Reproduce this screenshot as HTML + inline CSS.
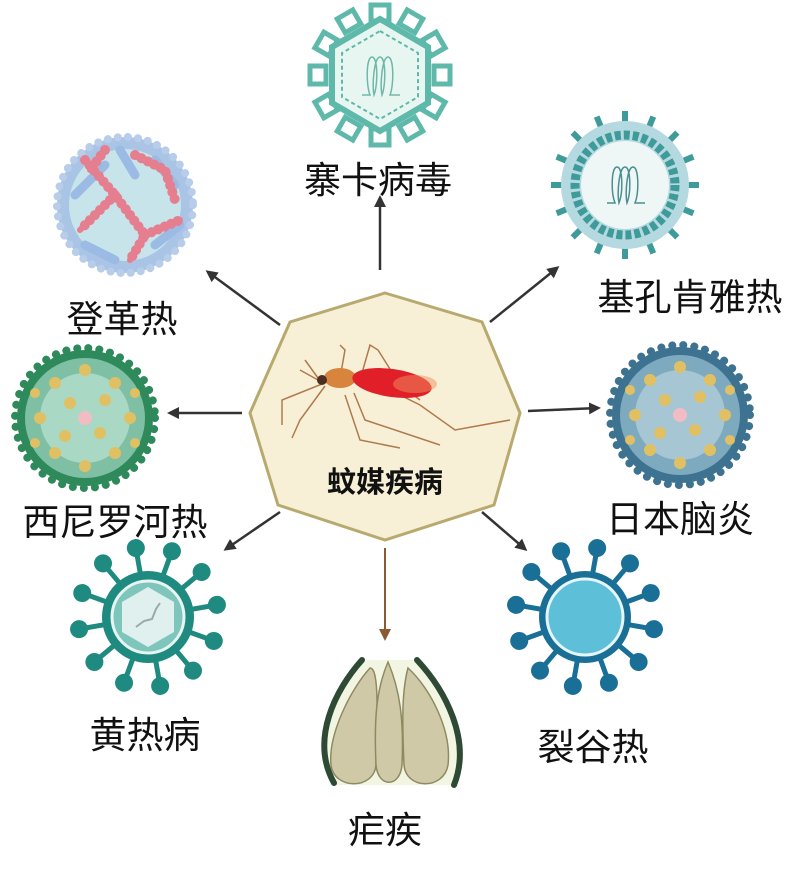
<!DOCTYPE html>
<html><head><meta charset="utf-8"><style>
html,body{margin:0;padding:0;background:#fff;}
body{width:800px;height:872px;overflow:hidden;}
svg text{font-family:"Liberation Sans","Noto Sans CJK SC",sans-serif;}
</style></head><body>
<svg width="800" height="872" viewBox="0 0 800 872" xmlns="http://www.w3.org/2000/svg">
<defs>
<marker id="ah" markerWidth="12" markerHeight="12" refX="9" refY="6" orient="auto" markerUnits="userSpaceOnUse">
<path d="M0,0 L12,6 L0,12 Z" fill="#333"/></marker>
<marker id="ahb" markerWidth="12" markerHeight="12" refX="9" refY="6" orient="auto" markerUnits="userSpaceOnUse">
<path d="M0,0 L12,6 L0,12 Z" fill="#8a5a32"/></marker>
<g id="spkYF"><line x1="0" y1="0" x2="0" y2="-66" stroke="#1f8a7f" stroke-width="5"/><circle cx="0" cy="-70" r="9" fill="#1f8a7f"/></g>
<g id="spkRV"><line x1="0" y1="0" x2="0" y2="-66" stroke="#1a6f97" stroke-width="5"/><circle cx="0" cy="-70" r="9" fill="#1a6f97"/></g>
<g id="spkCH"><line x1="0" y1="0" x2="0" y2="-74" stroke="#3f9a9a" stroke-width="6"/></g>
<g id="spkZK"><rect x="-9" y="-70" width="18" height="16" fill="none" stroke="#5fb9ab" stroke-width="5"/></g>
<g id="dots" fill="#e1c063"><circle cx="-30" cy="-35" r="6"/><circle cx="0" cy="-48" r="6"/><circle cx="30" cy="-35" r="6"/><circle cx="-45" cy="0" r="6"/><circle cx="45" cy="0" r="6"/><circle cx="-30" cy="35" r="6"/><circle cx="0" cy="48" r="6"/><circle cx="30" cy="35" r="6"/><circle cx="-15" cy="-15" r="6"/><circle cx="15" cy="15" r="6"/><circle cx="20" cy="-18" r="6"/><circle cx="-20" cy="18" r="6"/><circle cx="-50" cy="-25" r="5"/><circle cx="50" cy="25" r="5"/><circle cx="-50" cy="25" r="5"/><circle cx="50" cy="-25" r="5"/></g>
</defs>

<g stroke="#333" stroke-width="2.5" fill="none">
<line x1="380" y1="270" x2="380" y2="198" marker-end="url(#ah)"/>
<line x1="280" y1="325" x2="208" y2="272" marker-end="url(#ah)"/>
<line x1="490" y1="322" x2="557" y2="268" marker-end="url(#ah)"/>
<line x1="242" y1="413" x2="170" y2="413" marker-end="url(#ah)"/>
<line x1="528" y1="411" x2="598" y2="408" marker-end="url(#ah)"/>
<line x1="280" y1="512" x2="226" y2="549" marker-end="url(#ah)"/>
<line x1="482" y1="512" x2="525" y2="549" marker-end="url(#ah)"/>
</g>
<line x1="385" y1="548" x2="385" y2="638" stroke="#8a5a32" stroke-width="2" marker-end="url(#ahb)"/>

<polygon points="385,293 482,322 520,413 494,505 385,540 278,505 250,413 290,322" fill="#f8f0d6" stroke="#b8aa6e" stroke-width="3"/>
<g fill="none" stroke="#b07a4c" stroke-width="1.5">
<path d="M322,384 L282,400 L282,425"/><path d="M325,386 L300,420 L292,438"/>
<path d="M340,378 L345,350 L340,345"/><path d="M360,380 L370,345 L378,350 L400,385 L420,400"/>
<path d="M354,393 L365,420 L440,445"/><path d="M345,395 L360,440 L400,448"/>
<path d="M378,384 L420,405 L455,430 L510,420"/><path d="M318,380 L300,370"/><path d="M318,378 L305,360"/>
</g>
<ellipse cx="340" cy="378" rx="16" ry="10" fill="#d9843c"/>
<circle cx="322" cy="380" r="5" fill="#4a3020"/>
<ellipse cx="392" cy="383" rx="40" ry="14" fill="#e01f28" transform="rotate(8 392 383)"/>
<ellipse cx="415" cy="384" rx="22" ry="9" fill="#f09060" opacity="0.5"/>
<text x="385" y="492" font-size="29" font-weight="bold" text-anchor="middle" fill="#111">蚊媒疾病</text>

<g transform="translate(380,75)">
<use href="#spkZK"/><use href="#spkZK" transform="rotate(30)"/><use href="#spkZK" transform="rotate(60)"/><use href="#spkZK" transform="rotate(90)"/><use href="#spkZK" transform="rotate(120)"/><use href="#spkZK" transform="rotate(150)"/><use href="#spkZK" transform="rotate(180)"/><use href="#spkZK" transform="rotate(210)"/><use href="#spkZK" transform="rotate(240)"/><use href="#spkZK" transform="rotate(270)"/><use href="#spkZK" transform="rotate(300)"/><use href="#spkZK" transform="rotate(330)"/>
<polygon points="0,-56 48,-28 48,28 0,56 -48,28 -48,-28" fill="#e8f6f2" stroke="#5fb9ab" stroke-width="6"/>
<polygon points="0,-44 38,-22 38,22 0,44 -38,22 -38,-22" fill="none" stroke="#5fb9ab" stroke-width="2" stroke-dasharray="4 3"/>
<path d="M-18,20 L-10,20 C-14,10 -14,-18 -8,-18 C-2,-18 -2,10 -6,20 C-8,10 -6,-18 0,-18 C6,-18 6,10 2,20 C0,10 2,-18 8,-18 C14,-18 14,10 10,20 L20,20" fill="none" stroke="#6fb8a8" stroke-width="1.5"/>
</g>
<text x="378" y="193" font-size="37" text-anchor="middle" fill="#111">寨卡病毒</text>

<g transform="translate(625,185)">
<use href="#spkCH"/><use href="#spkCH" transform="rotate(22.5)"/><use href="#spkCH" transform="rotate(45)"/><use href="#spkCH" transform="rotate(67.5)"/><use href="#spkCH" transform="rotate(90)"/><use href="#spkCH" transform="rotate(112.5)"/><use href="#spkCH" transform="rotate(135)"/><use href="#spkCH" transform="rotate(157.5)"/><use href="#spkCH" transform="rotate(180)"/><use href="#spkCH" transform="rotate(202.5)"/><use href="#spkCH" transform="rotate(225)"/><use href="#spkCH" transform="rotate(247.5)"/><use href="#spkCH" transform="rotate(270)"/><use href="#spkCH" transform="rotate(292.5)"/><use href="#spkCH" transform="rotate(315)"/><use href="#spkCH" transform="rotate(337.5)"/>
<circle r="64" fill="#b5d9e0"/>
<circle r="50" fill="none" stroke="#3f9a9a" stroke-width="9" stroke-dasharray="6 3"/>
<circle r="44" fill="#eef6f6"/>
<path d="M-18,18 L-10,18 C-14,8 -14,-18 -8,-18 C-2,-18 -2,8 -6,18 C-8,8 -6,-18 0,-18 C6,-18 6,8 2,18 C0,8 2,-18 8,-18 C14,-18 14,8 10,18 L20,18" fill="none" stroke="#4a8f8f" stroke-width="1.5"/>
</g>
<text x="690" y="310" font-size="37" text-anchor="middle" fill="#111">基孔肯雅热</text>

<g transform="translate(125,205)">
<circle r="68" fill="#aac4e6"/>
<circle r="68" fill="none" stroke="#b7cde9" stroke-width="8" stroke-dasharray="0.1 10" stroke-linecap="round"/>
<circle r="56" fill="#c7e4ea"/>
<g fill="none" stroke="#9bbbe4" stroke-width="9" stroke-linecap="round"><path d="M-50,-10 L-20,-40"/><path d="M30,-45 L50,-20"/><path d="M-40,40 L-10,55"/><path d="M30,40 L55,20"/><path d="M-5,-55 L10,-30"/></g>
<g fill="none" stroke="#e57f8f" stroke-width="10" stroke-linecap="round" stroke-dasharray="0.1 7">
<path d="M-40,-45 L-10,-10 L20,30 L5,55"/><path d="M-10,-10 L-45,25"/><path d="M20,30 L55,15"/><path d="M10,-50 L40,-35 L50,-5"/><path d="M-20,-55 L-35,-35"/>
</g>
<g stroke="#e57f8f" stroke-width="6" stroke-linecap="round" fill="none">
<path d="M-40,-45 L-10,-10 L20,30 L5,55"/><path d="M-10,-10 L-45,25"/><path d="M20,30 L55,15"/><path d="M10,-50 L40,-35 L50,-5"/><path d="M-20,-55 L-35,-35"/>
</g>
</g>
<text x="122" y="332" font-size="37" text-anchor="middle" fill="#111">登革热</text>

<g transform="translate(85,418)">
<circle r="68" fill="#2e8a5a"/>
<circle r="70" fill="none" stroke="#2e8a5a" stroke-width="8" stroke-dasharray="0.1 11" stroke-linecap="round"/>
<circle r="60" fill="#7fc0a4"/>
<circle r="45" fill="#a9d8c4"/>
<use href="#dots"/>
<circle r="7" fill="#f2bcc4"/>
</g>
<text x="115" y="535" font-size="37" text-anchor="middle" fill="#111">西尼罗河热</text>

<g transform="translate(680,415)">
<circle r="68" fill="#3d7290"/>
<circle r="70" fill="none" stroke="#3d7290" stroke-width="8" stroke-dasharray="0.1 11" stroke-linecap="round"/>
<circle r="60" fill="#7eaabf"/>
<circle r="45" fill="#a6c6d4"/>
<use href="#dots"/>
<circle r="7" fill="#f2bcc4"/>
</g>
<text x="680" y="532" font-size="37" text-anchor="middle" fill="#111">日本脑炎</text>

<g transform="translate(148,617)">
<use href="#spkYF" transform="rotate(-10)"/><use href="#spkYF" transform="rotate(20)"/><use href="#spkYF" transform="rotate(50)"/><use href="#spkYF" transform="rotate(80)"/><use href="#spkYF" transform="rotate(110)"/><use href="#spkYF" transform="rotate(140)"/><use href="#spkYF" transform="rotate(170)"/><use href="#spkYF" transform="rotate(200)"/><use href="#spkYF" transform="rotate(230)"/><use href="#spkYF" transform="rotate(260)"/><use href="#spkYF" transform="rotate(290)"/><use href="#spkYF" transform="rotate(320)"/>
<circle r="46" fill="#1f8a7f"/>
<circle r="36" fill="#7ec6bc" stroke="#e6f4f2" stroke-width="3"/>
<polygon points="0,-30 26,-15 26,15 0,30 -26,15 -26,-15" fill="#dff0ee"/>
<path d="M-12,10 L-4,4 L4,2 L8,-8 L12,-14" fill="none" stroke="#9aa" stroke-width="2"/>
</g>
<text x="145" y="748" font-size="37" text-anchor="middle" fill="#111">黄热病</text>

<g transform="translate(585,617)">
<use href="#spkRV" transform="rotate(-20)"/><use href="#spkRV" transform="rotate(10)"/><use href="#spkRV" transform="rotate(40)"/><use href="#spkRV" transform="rotate(70)"/><use href="#spkRV" transform="rotate(100)"/><use href="#spkRV" transform="rotate(130)"/><use href="#spkRV" transform="rotate(160)"/><use href="#spkRV" transform="rotate(190)"/><use href="#spkRV" transform="rotate(220)"/><use href="#spkRV" transform="rotate(250)"/><use href="#spkRV" transform="rotate(280)"/><use href="#spkRV" transform="rotate(310)"/>
<circle r="46" fill="#1a6f97"/>
<circle r="38" fill="#5ec0d8" stroke="#e6f5fa" stroke-width="3"/>
</g>
<text x="593" y="760" font-size="37" text-anchor="middle" fill="#111">裂谷热</text>

<g>
<path d="M336,785 C310,740 330,690 366,660 L414,660 C452,690 470,740 452,785 Z" fill="#f2f5e2"/>
<path d="M362,660 C335,690 310,740 334,783" fill="none" stroke="#2e4a34" stroke-width="6" stroke-linecap="round"/>
<path d="M417,660 C445,690 472,740 454,785" fill="none" stroke="#2e4a34" stroke-width="6" stroke-linecap="round"/>
<path d="M331,765 C328,735 350,690 370,668 C378,668 378,700 376,765 C374,790 334,790 331,765Z" fill="#d0c9a8" stroke="#8e8a60" stroke-width="1.5"/>
<path d="M376,765 C374,720 376,690 388,662 C400,690 404,720 402,765 C400,788 378,788 376,765Z" fill="#d0c9a8" stroke="#8e8a60" stroke-width="1.5"/>
<path d="M404,765 C402,720 402,690 408,668 C430,688 452,730 448,765 C444,790 406,790 404,765Z" fill="#d0c9a8" stroke="#8e8a60" stroke-width="1.5"/>
</g>
<text x="385" y="843" font-size="37" text-anchor="middle" fill="#111">疟疾</text>
</svg>
</body></html>
